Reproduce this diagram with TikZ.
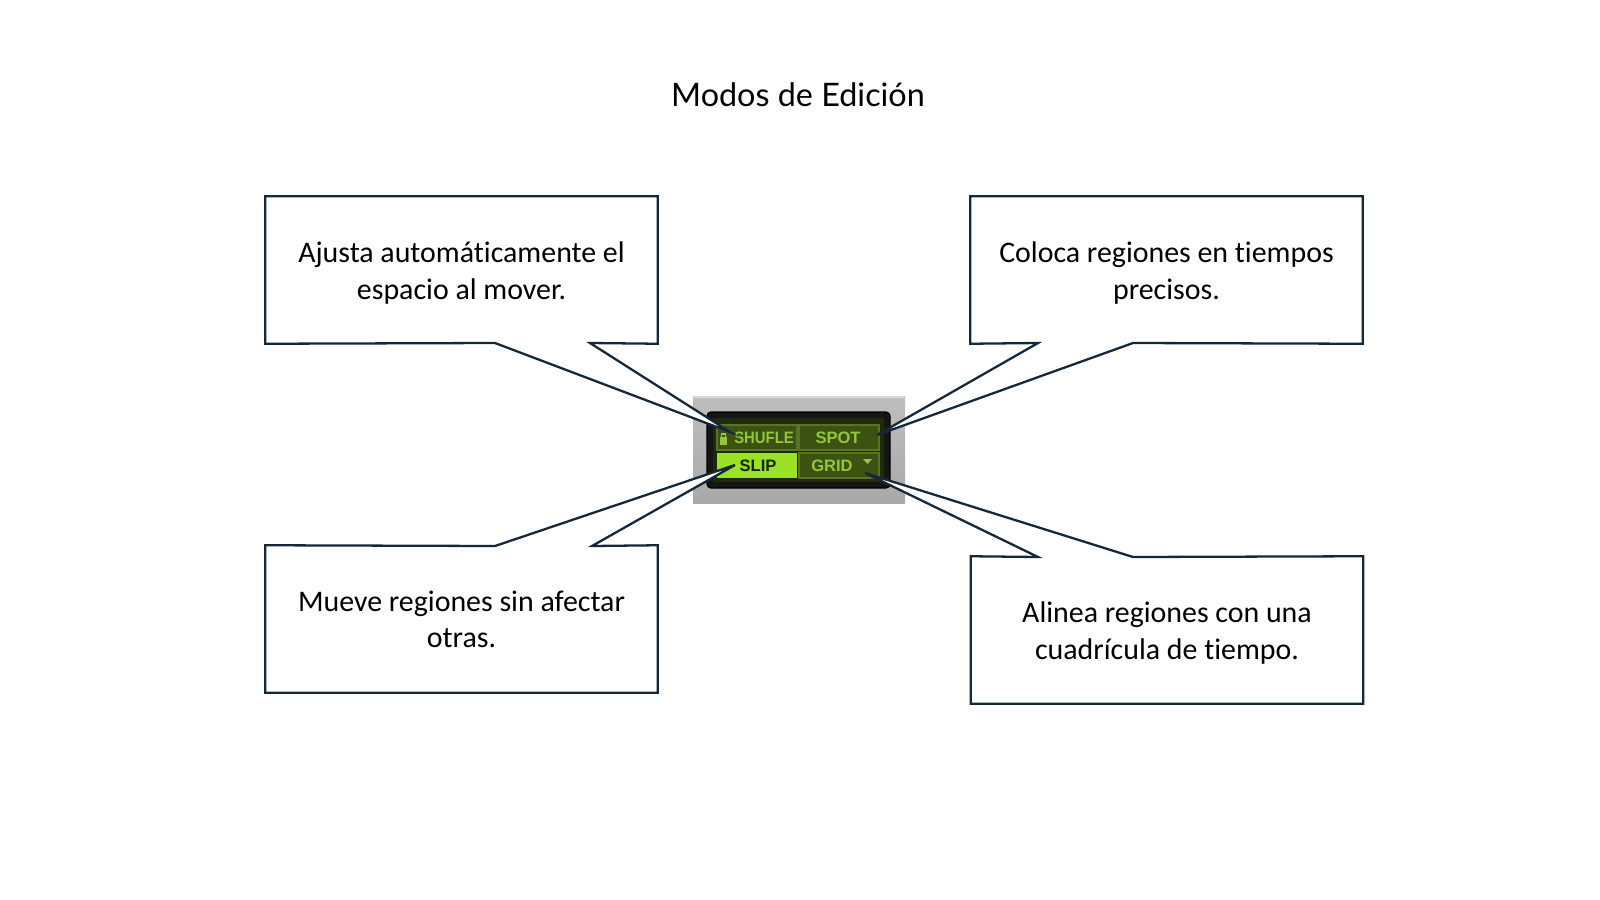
\documentclass[tikz,border=0pt]{standalone}
\usepackage{fontspec}
\setmainfont[Ligatures={NoCommon}]{Carlito}
\newfontfamily\titlefont{Lato}
\newfontfamily\uifont{Liberation Sans}
\definecolor{lineC}{HTML}{15283A}
\definecolor{panelG}{HTML}{A9A9A9}
\definecolor{frameK}{HTML}{151515}
\definecolor{innerG}{HTML}{1F2A0C}
\definecolor{cellG}{HTML}{3B5212}
\definecolor{cellB}{HTML}{5A7426}
\definecolor{cellT}{HTML}{93C83C}
\definecolor{slipG}{HTML}{9BE226}
\definecolor{slipT}{HTML}{16240A}
\tikzset{
  boxanchor/.style={rectangle, inner sep=0pt, minimum width=3.91cm, minimum height=1.46cm},
  callout/.style={draw=lineC, line width=0.65pt, fill=white, line join=miter},
  calltext/.style={align=center, font=\fontsize{8.5pt}{10.3pt}\selectfont, text=black},
  cellbox/.style={draw=cellB, line width=0.3pt, fill=cellG},
  celltext/.style={font=\uifont\bfseries\fontsize{4.7pt}{5pt}\selectfont, text=cellT, inner sep=0pt},
}
\begin{document}
\begin{tikzpicture}[x=0.01cm,y=-0.01cm]
\useasboundingbox[fill=white] (0,0) rectangle (1600,900);
% title
\node[font=\titlefont\fontsize{9.2pt}{11pt}\selectfont, text=black] (title) at (798,95) {Modos de Edición};
% widget
\shade[top color=panelG!75, bottom color=panelG] (693,396) rectangle (905,503);
\draw[white!85!black, line width=0.6pt] (694,397) -- (904,397);
\filldraw[fill=frameK, draw=black, rounded corners=1.2pt] (707,412) rectangle (890,488);
\fill[innerG] (713,418) rectangle (884,482);
\draw[cellbox] (717,425) rectangle (797,450);
\draw[cellbox] (799,425) rectangle (879,450);
\fill[slipG] (717,453) rectangle (797,478);
\draw[cellbox] (799,453) rectangle (879,478);
\fill[cellT] (720,437) rectangle (727,445);
\draw[cellT, line width=0.4pt] (721.5,437) -- (721.5,434) -- (725.5,434) -- (725.5,437);
\node[celltext, xscale=0.9] (shufle) at (764,438) {SHUFLE};
\node[celltext] (spot) at (838,438) {SPOT};
\node[celltext, text=slipT] (slip) at (758,466) {SLIP};
\node[celltext] (grid) at (832,466) {GRID};
\fill[cellT] (863,459) -- (872,459) -- (867.5,464) -- cycle;
% tips
\coordinate (tip1) at (730,432);
\coordinate (tip2) at (877,435);
\coordinate (tip3) at (735,465);
\coordinate (tip4) at (865,473);
% callout anchors
\node[boxanchor] (c1) at (461.5,270) {};
\node[boxanchor] (c2) at (1166.5,270) {};
\node[boxanchor] (c3) at (461.5,619) {};
\node[boxanchor] (c4) at (1167,630) {};
% callout shapes
\draw[callout] (c1.north west) -- (c1.north east) -- (c1.south east) -- (590,343) -- (tip1) -- (495,343) -- (c1.south west) -- cycle;
\draw[callout] (c2.north west) -- (c2.north east) -- (c2.south east) -- (1133,343) -- (tip2) -- (1038,343) -- (c2.south west) -- cycle;
\draw[callout] (c3.south west) -- (c3.south east) -- (c3.north east) -- (592,546) -- (tip3) -- (495,546) -- (c3.north west) -- cycle;
\draw[callout] (c4.south west) -- (c4.south east) -- (c4.north east) -- (1133,557) -- (tip4) -- (1038,557) -- (c4.north west) -- cycle;
% texts
\node[calltext] (t1) at ([yshift=-0.03cm]c1.center) {Ajusta automáticamente el\\espacio al mover.};
\node[calltext] (t2) at ([yshift=-0.03cm]c2.center) {Coloca regiones en tiempos\\precisos.};
\node[calltext] (t3) at (c3.center) {Mueve regiones sin afectar\\otras.};
\node[calltext] (t4) at ([yshift=-0.03cm]c4.center) {Alinea regiones con una\\cuadrícula de tiempo.};
\end{tikzpicture}
\end{document}
